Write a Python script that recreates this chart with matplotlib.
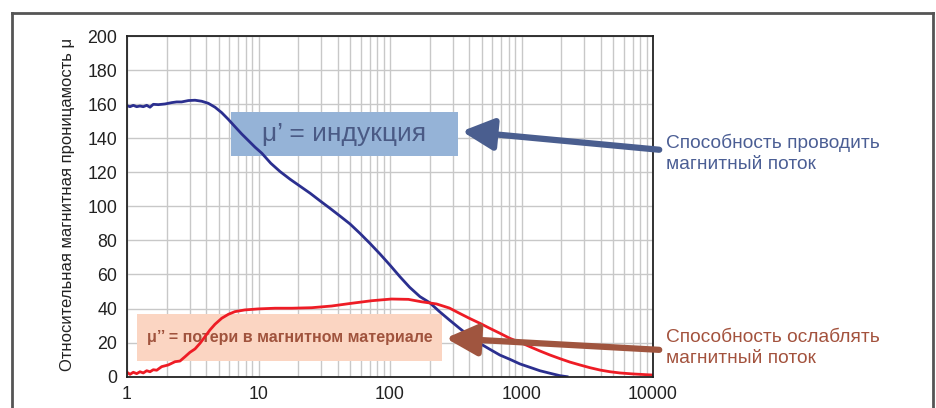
import matplotlib.pyplot as plt
from matplotlib.patches import FancyArrowPatch, Rectangle
from matplotlib.lines import Line2D
from matplotlib.ticker import FixedLocator, NullFormatter

# mu' (induction) readings
freq_mu1 = [1.0, 1.054, 1.117, 1.185, 1.255, 1.33, 1.412, 1.496, 1.585, 1.73, 1.944, 2.19,
            2.386, 2.6, 2.93, 3.29, 3.70, 4.15, 4.67, 5.25, 5.89, 6.62, 7.45, 8.38, 9.42,
            10.6, 12.4, 14.6, 17.4, 20.9, 24.7, 29.3, 34.9, 41.5, 49.6, 59, 70.3, 84, 99.7,
            119, 141, 169, 200, 238, 283, 338, 401, 481, 574, 685, 816, 973, 1160, 1380,
            1650, 1960, 2220]
mu1 = [159.1, 158.5, 159.3, 158.5, 158.9, 158.5, 159.3, 158.2, 159.9, 159.7, 160.1, 160.9,
       161.3, 161.3, 162.1, 162.3, 161.7, 160.5, 158.2, 155.0, 151.1, 146.8, 142.5, 138.6,
       134.7, 131.2, 125.3, 120.4, 115.9, 111.6, 107.7, 103.3, 98.9, 94.4, 89.7, 84.2, 78.3,
       72.0, 65.6, 58.7, 52.5, 47.0, 43.5, 38.2, 33.3, 28.4, 23.9, 19.6, 16.1, 12.7, 10.2,
       7.5, 5.5, 3.5, 2.0, 0.6, 0.0]

# mu'' (losses) readings
freq_mu2 = [1.0, 1.054, 1.117, 1.185, 1.255, 1.33, 1.412, 1.496, 1.585, 1.683, 1.835, 2.06,
            2.318, 2.53, 2.76, 3.01, 3.29, 3.59, 3.92, 4.27, 4.67, 5.25, 5.89, 6.62, 7.88,
            9.97, 13.35, 17.9, 25.4, 36.0, 51.1, 72.5, 102.6, 138, 173, 226, 283, 338, 401,
            481, 574, 685, 816, 973, 1160, 1380, 1650, 1960, 2330, 2780, 3310, 3960, 4720,
            5600, 7100, 9850]
mu2 = [2.6, 1.4, 2.6, 1.8, 2.9, 2.2, 3.5, 2.9, 4.1, 3.8, 5.9, 6.9, 8.8, 9.2, 11.7, 14.3,
       16.3, 19.6, 23.5, 27.4, 30.8, 34.3, 36.6, 38.2, 39.2, 39.8, 40.2, 40.2, 40.5, 41.5,
       43.1, 44.6, 45.6, 45.4, 44.0, 42.7, 40.3, 37.2, 34.3, 31.4, 28.4, 25.5, 22.5, 20.2,
       17.6, 15.1, 12.7, 10.6, 8.6, 6.9, 5.3, 3.9, 2.9, 2.2, 1.6, 1.0]

y_ticks = [0, 20, 40, 60, 80, 100, 120, 140, 160, 180, 200]
x_ticks = [1, 10, 100, 1000, 10000]
x_labels = ["1", "10", "100", "1000", "10000"]

blue_text = "μ’ = индукция"
red_text = "μ’’ = потери в магнитном материале"
blue_note = "Способность проводить\nмагнитный поток"
red_note = "Способность ослаблять\nмагнитный поток"
ylabel = "Относительная магнитная проницамость μ"

plt.rcParams['font.family'] = ['Liberation Sans', 'DejaVu Sans']

W, H = 937, 408
AX_L, AX_B, AX_W, AX_H = 127, 31.3, 526, 340.7

fig = plt.figure(figsize=(W / 100, H / 100), dpi=100)
ax = fig.add_axes([AX_L / W, AX_B / H, AX_W / W, AX_H / H])


def afrac(px, py):
    # image pixel (top-left origin) -> axes fraction
    return (px - AX_L) / AX_W, (H - py - AX_B) / AX_H


# grid
minor = [m * 10 ** d for d in range(4) for m in range(2, 10)]
ax.set_xscale('log')
ax.xaxis.set_minor_locator(FixedLocator(minor))
ax.xaxis.set_minor_formatter(NullFormatter())
ax.grid(True, which='both', axis='x', color='#c8c8c8', lw=1.0)
ax.grid(True, which='major', axis='y', color='#c8c8c8', lw=1.0)
ax.set_axisbelow(True)

# label boxes inside the plot (curves run over them)
x0, y0 = afrac(231, 155.7)
ax.add_patch(Rectangle((x0, y0), 227 / AX_W, 43.4 / AX_H, transform=ax.transAxes,
                       facecolor='#95b3d7', edgecolor='none', zorder=1.5))
ax.text(*afrac(344.5, 134), blue_text, transform=ax.transAxes, ha='center', va='center',
        fontsize=19, color='#4a5a85', zorder=1.8)
x0, y0 = afrac(137, 360.7)
ax.add_patch(Rectangle((x0, y0), 304.7 / AX_W, 46.7 / AX_H, transform=ax.transAxes,
                       facecolor='#fbd5c2', edgecolor='none', zorder=1.5))
ax.text(*afrac(289.5, 337.5), red_text, transform=ax.transAxes, ha='center', va='center',
        fontsize=11.5, fontweight='bold', color='#a0533d', zorder=1.8)

ax.plot(freq_mu1, mu1, color='#2b2f8f', lw=2, zorder=2.5)
ax.plot(freq_mu2, mu2, color='#ee1c25', lw=2, zorder=2.5)

ax.set_xlim(1, 10000)
ax.set_ylim(0, 200)
ax.set_yticks(y_ticks)
ax.set_xticks(x_ticks)
ax.set_xticklabels(x_labels)
ax.tick_params(which='both', length=0, labelsize=12.8, colors='#222222', pad=7)
for s in ax.spines.values():
    s.set_color('#222222')
    s.set_linewidth(1.3)
ax.set_ylabel(ylabel, fontsize=12, color='#222222')
ax.yaxis.set_label_coords((75 - AX_L) / AX_W, 0.507)

# outer frame (bottom edge cut off)
frame_col = '#555555'
for xs, ys in [((12, 12), (-5, 395)), ((12, 933), (395, 395)), ((933, 933), (395, -5))]:
    fig.add_artist(Line2D(xs, ys, transform=None, color=frame_col, lw=2))

# arrows
fig.add_artist(FancyArrowPatch((662, H - 150), (459, H - 131), transform=None,
                               arrowstyle='-|>,head_length=1.2,head_width=0.6',
                               mutation_scale=16, lw=4.5, color='#4a5e8f', zorder=7))
fig.add_artist(FancyArrowPatch((662, H - 350), (443, H - 338), transform=None,
                               arrowstyle='-|>,head_length=1.2,head_width=0.6',
                               mutation_scale=16, lw=4.5, color='#a0553f', zorder=7))

fig.text(666 / W, 1 - 153.5 / H, blue_note, ha='left', va='center',
         fontsize=13.8, color='#4b5e94', linespacing=1.32)
fig.text(666 / W, 1 - 348 / H, red_note, ha='left', va='center',
         fontsize=13.8, color='#a3523d', linespacing=1.28)

fig.savefig('out.png', dpi=100)
